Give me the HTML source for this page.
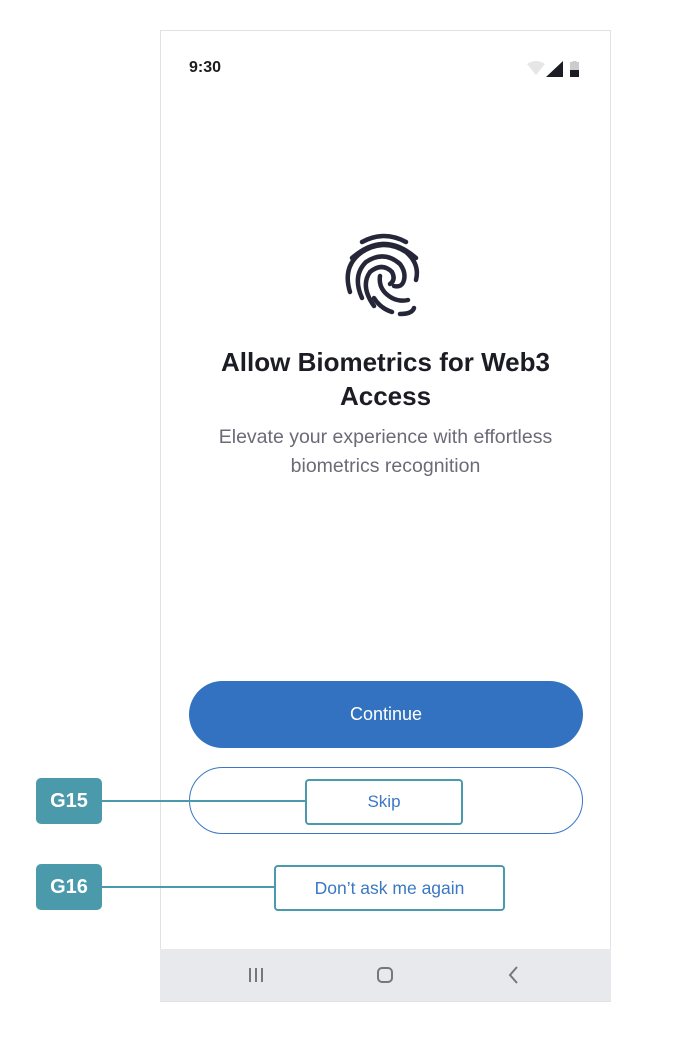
<!DOCTYPE html>
<html><head><meta charset="utf-8"><style>
*{margin:0;padding:0;box-sizing:border-box}
body{width:680px;height:1040px;background:#fff;position:relative;font-family:"Liberation Sans",sans-serif;overflow:hidden}
.a{position:absolute}
</style></head><body>
<div class="a" style="left:160px;top:30px;width:451px;height:972px;border:1px solid #e2e2e4;background:#fff"></div>
<div class="a" style="left:189px;top:59px;font-size:16px;font-weight:bold;color:#1c1c1e">9:30</div>
<svg class="a" style="left:525px;top:60px" width="60" height="20">
<path d="M2 4 Q11 -2 20 4 L11 15 Z" fill="#e6e6e6"/>
<path d="M21 17 L38 17 L38 1 Z" fill="#1c1c24"/>
<rect x="45" y="4" width="9" height="13" fill="#1c1c24"/><rect x="45" y="2" width="9" height="8" fill="#ccc"/><rect x="47.5" y="1" width="4" height="2" fill="#ccc"/>
</svg>
<svg class="a" style="left:340px;top:228px" width="90" height="90" viewBox="0 0 90 90" fill="none" stroke="#252638" stroke-width="4.5" stroke-linecap="round">
<path d="M22 14 Q44 2 66 14"/>
<path d="M12 30 Q44 2 76 30"/>
<path d="M10 64 Q2 38 22 24 Q44 10 66 24 Q80 36 76 52"/>
<path d="M22 70 Q12 48 26 34 Q44 22 60 36 Q66 44 64 52 Q62 60 54 58"/>
<path d="M34 78 Q20 58 30 44 Q42 34 52 44 Q56 52 50 56"/>
<path d="M40 48 Q38 62 52 70 Q60 74 68 72"/>
<path d="M52 84 Q40 80 34 70"/>
<path d="M60 86 Q72 86 74 80"/>
</svg>
<div class="a" style="left:150px;top:345px;width:471px;text-align:center;font-size:26px;font-weight:bold;color:#1c1c24;line-height:34px">Allow Biometrics for Web3<br>Access</div>
<div class="a" style="left:150px;top:423px;width:471px;text-align:center;font-size:19.5px;color:#6b6b78;line-height:29px">Elevate your experience with effortless<br>biometrics recognition</div>
<div class="a" style="left:189px;top:681px;width:394px;height:67px;border-radius:34px;background:#3272c0;color:#fff;font-size:18px;text-align:center;line-height:67px">Continue</div>
<div class="a" style="left:189px;top:767px;width:394px;height:67px;border-radius:34px;border:1.5px solid #3a78c3"></div>
<div class="a" style="left:160px;top:949px;width:451px;height:52px;background:#e8e9ec"></div>
<div class="a" style="left:249px;top:968px;width:2px;height:14px;background:#777"></div>
<div class="a" style="left:255px;top:968px;width:2px;height:14px;background:#777"></div>
<div class="a" style="left:261px;top:968px;width:2px;height:14px;background:#777"></div>
<div class="a" style="left:377px;top:967px;width:16px;height:16px;border:2px solid #777;border-radius:5px"></div>
<svg class="a" style="left:505px;top:965px" width="16" height="20"><path d="M12 2 L5 10 L12 18" stroke="#777" stroke-width="2" fill="none"/></svg>
<div class="a" style="left:102px;top:800px;width:204px;height:2px;background:#4a9aab"></div>
<div class="a" style="left:102px;top:886px;width:173px;height:2px;background:#4a9aab"></div>
<div class="a" style="left:36px;top:778px;width:66px;height:46px;border-radius:5px;background:#4a9aab;color:#fff;font-weight:bold;font-size:20px;text-align:center;line-height:46px">G15</div>
<div class="a" style="left:36px;top:864px;width:66px;height:46px;border-radius:5px;background:#4a9aab;color:#fff;font-weight:bold;font-size:20px;text-align:center;line-height:46px">G16</div>
<div class="a" style="left:305px;top:779px;width:158px;height:46px;border-radius:4px;border:2px solid #4a9aab;background:#fff;color:#3a78c3;font-size:17px;text-align:center;line-height:42px">Skip</div>
<div class="a" style="left:274px;top:865px;width:231px;height:46px;border-radius:4px;border:2px solid #4a9aab;background:#fff;color:#3a78c3;font-size:17.5px;text-align:center;line-height:42px">Don’t ask me again</div>
</body></html>
